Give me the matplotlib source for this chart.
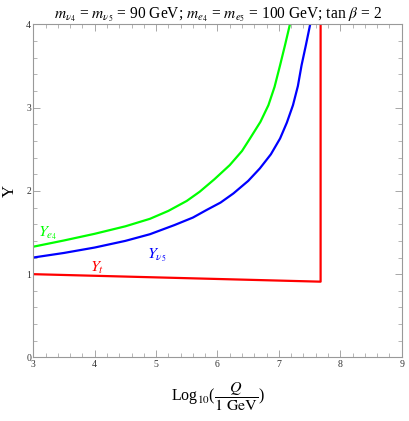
import matplotlib
matplotlib.use("Agg")
import matplotlib.pyplot as plt
from matplotlib.ticker import MultipleLocator

plt.rcParams['font.family'] = ['Liberation Serif', 'DejaVu Serif']
plt.rcParams['mathtext.fontset'] = 'stix'

# Data
x_e4 = [3.0, 3.5, 4.0, 4.5, 4.9, 5.2, 5.5, 5.71, 5.95, 6.2, 6.4, 6.53, 6.7, 6.83,
        6.93, 7.02, 7.1, 7.18]
y_e4 = [1.33, 1.405, 1.485, 1.575, 1.665, 1.76, 1.88, 1.99, 2.14, 2.31, 2.48, 2.63, 2.83,
        3.03, 3.25, 3.51, 3.75, 4.0]

x_nu5 = [3.0, 3.5, 4.0, 4.5, 4.9, 5.3, 5.6, 5.82, 6.05, 6.26, 6.5, 6.69, 6.87, 7.02,
         7.13, 7.23, 7.31, 7.37, 7.44, 7.51]
y_nu5 = [1.20, 1.255, 1.32, 1.40, 1.48, 1.59, 1.68, 1.77, 1.86, 1.97, 2.12, 2.27, 2.44,
         2.63, 2.82, 3.03, 3.26, 3.51, 3.75, 4.0]

x_t = [3.0, 7.68, 7.68]
y_t = [1.0, 0.91, 4.0]

xticks = [3, 4, 5, 6, 7, 8, 9]
yticks = [0, 1, 2, 3, 4]

fig = plt.figure(figsize=(4.09, 4.21), dpi=100)
ax = fig.add_axes([0.0814, 0.151, 0.9006, 0.791])

ax.plot(x_t, y_t, color=(1, 0, 0), lw=1.6, solid_joinstyle='round')
ax.plot(x_nu5, y_nu5, color=(0, 0, 1), lw=1.6, solid_joinstyle='round')
ax.plot(x_e4, y_e4, color=(0, 1, 0), lw=1.6, solid_joinstyle='round')

ax.set_xlim(3, 9)
ax.set_ylim(0, 4)
ax.set_xticks(xticks)
ax.set_yticks(yticks)
ax.xaxis.set_minor_locator(MultipleLocator(0.2))
ax.yaxis.set_minor_locator(MultipleLocator(0.2))
ax.tick_params(which='both', direction='in', top=True, right=True,
               color='#999999', labelsize=7, labelcolor='#333333')
ax.tick_params(which='major', length=5, width=0.6, pad=1.5)
ax.tick_params(which='minor', length=3, width=0.5)
for s in ax.spines.values():
    s.set_color('#999999')
    s.set_linewidth(0.8)

ax.text(3.07, 1.45, r'$Y_{e_4}$', color=(0, 1, 0), fontsize=11.5)
ax.text(4.85, 1.19, r'$Y_{\nu_5}$', color=(0, 0, 1), fontsize=11.5)
ax.text(3.92, 1.03, r'$Y_t$', color=(1, 0, 0), fontsize=11.5)

ax.set_title(r'$m_{\nu_4}$ = $m_{\nu_5}$ = 90 GeV; $m_{e_4}$ = $m_{e_5}$ = 100 GeV; tan $\beta$ = 2',
             fontsize=11.2, pad=4)
ax.set_ylabel('Y', fontsize=12, labelpad=6)
ax.set_xlabel(r'Log$_{10}$($\dfrac{Q}{1\ \mathrm{GeV}}$)', fontsize=11.5, labelpad=8)

fig.savefig('out.png', dpi=100)
